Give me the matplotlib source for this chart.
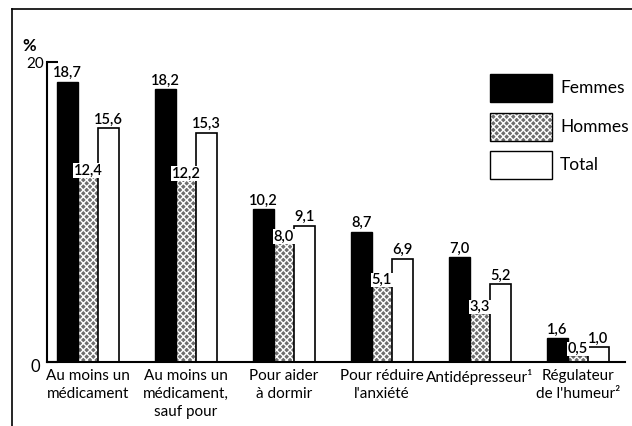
import matplotlib
matplotlib.use("Agg")
import matplotlib.pyplot as plt
import numpy as np

categories = ["Au moins un\nmédicament", "Au moins un\nmédicament,\nsauf pour",
              "Pour aider\nà dormir", "Pour réduire\nl'anxiété",
              "Antidépresseur¹", "Régulateur\nde l'humeur²"]
femmes = [18.7, 18.2, 10.2, 8.7, 7.0, 1.6]
hommes = [12.4, 12.2, 8.0, 5.1, 3.3, 0.5]
total = [15.6, 15.3, 9.1, 6.9, 5.2, 1.0]
series_names = ["Femmes", "Hommes", "Total"]

plt.rcParams['font.family'] = ['Lato', 'DejaVu Sans']

def fmt(v):
    return f"{v:.1f}".replace(".", ",")

fig = plt.figure(figsize=(6.32, 4.26), dpi=100)
ax = fig.add_axes([47/632, 64/426, 578/632, 300/426])

x = np.arange(len(categories))
w = 0.21
HC = "#6e6e6e"
ax.bar(x - w, femmes, w, color="black", edgecolor="black", linewidth=1)
ax.bar(x, hommes, w, color=HC, edgecolor="white", hatch="xxxxx", linewidth=0)
ax.bar(x, hommes, w, fill=False, edgecolor="black", linewidth=1)
ax.bar(x + w, total, w, color="white", edgecolor="black", linewidth=1.2)

for xi, v in zip(x - w, femmes):
    ax.text(xi, v + 0.1, fmt(v), ha="center", va="bottom", fontsize=10.5, weight="semibold")
for xi, v in zip(x, hommes):
    ax.text(xi, v - 0.1, fmt(v), ha="center", va="bottom", fontsize=10.5, weight="semibold",
            bbox=dict(facecolor="white", edgecolor="none", pad=0.3))
for xi, v in zip(x + w, total):
    ax.text(xi, v + 0.1, fmt(v), ha="center", va="bottom", fontsize=10.5, weight="semibold")

ax.set_xlim(-0.418, 5.48)
ax.set_ylim(0, 20)
ax.set_yticks([0, 20])
ax.set_yticklabels(["", "20"], fontsize=11)
ax.tick_params(axis="y", direction="in", length=8, width=1.5, pad=2)
ax.tick_params(axis="x", length=0, pad=5)
ax.set_xticks(x)
ax.set_xticklabels(categories, fontsize=11, linespacing=1.35, va="top")
for s in ["top", "right"]:
    ax.spines[s].set_visible(False)
ax.spines["left"].set_linewidth(1.5)
ax.spines["bottom"].set_linewidth(1.5)

fig.text(35/632, 1 - 367/426, "0", fontsize=12, ha="center", va="center")
fig.text(22/632, 1 - 46/426, "%", fontsize=12, ha="left", va="center", weight="bold")

# legend
colors = [("black", None), (HC, "xxxxx"), ("white", None)]
ys = [88, 127, 165]
for (c, h), yc, name in zip(colors, ys, series_names):
    r = plt.Rectangle((490/632, 1 - (yc + 14)/426), 62/632, 28/426, transform=fig.transFigure,
                      facecolor=c, edgecolor="white" if h else "black", hatch=h, linewidth=0 if h else 1)
    fig.add_artist(r)
    if h:
        fig.add_artist(plt.Rectangle((490/632, 1 - (yc + 14)/426), 62/632, 28/426,
                                     transform=fig.transFigure, fill=False, edgecolor="black", linewidth=1))
    fig.text(560/632, 1 - yc/426, name, fontsize=12.5, ha="left", va="center")

# outer frame lines
fig.add_artist(plt.Line2D([12/632, 12/632], [0, 1 - 9/426], transform=fig.transFigure, color="black", lw=1.2))
fig.add_artist(plt.Line2D([12/632, 1], [1 - 9/426, 1 - 9/426], transform=fig.transFigure, color="black", lw=1.2))

fig.savefig("out.png", dpi=100)
